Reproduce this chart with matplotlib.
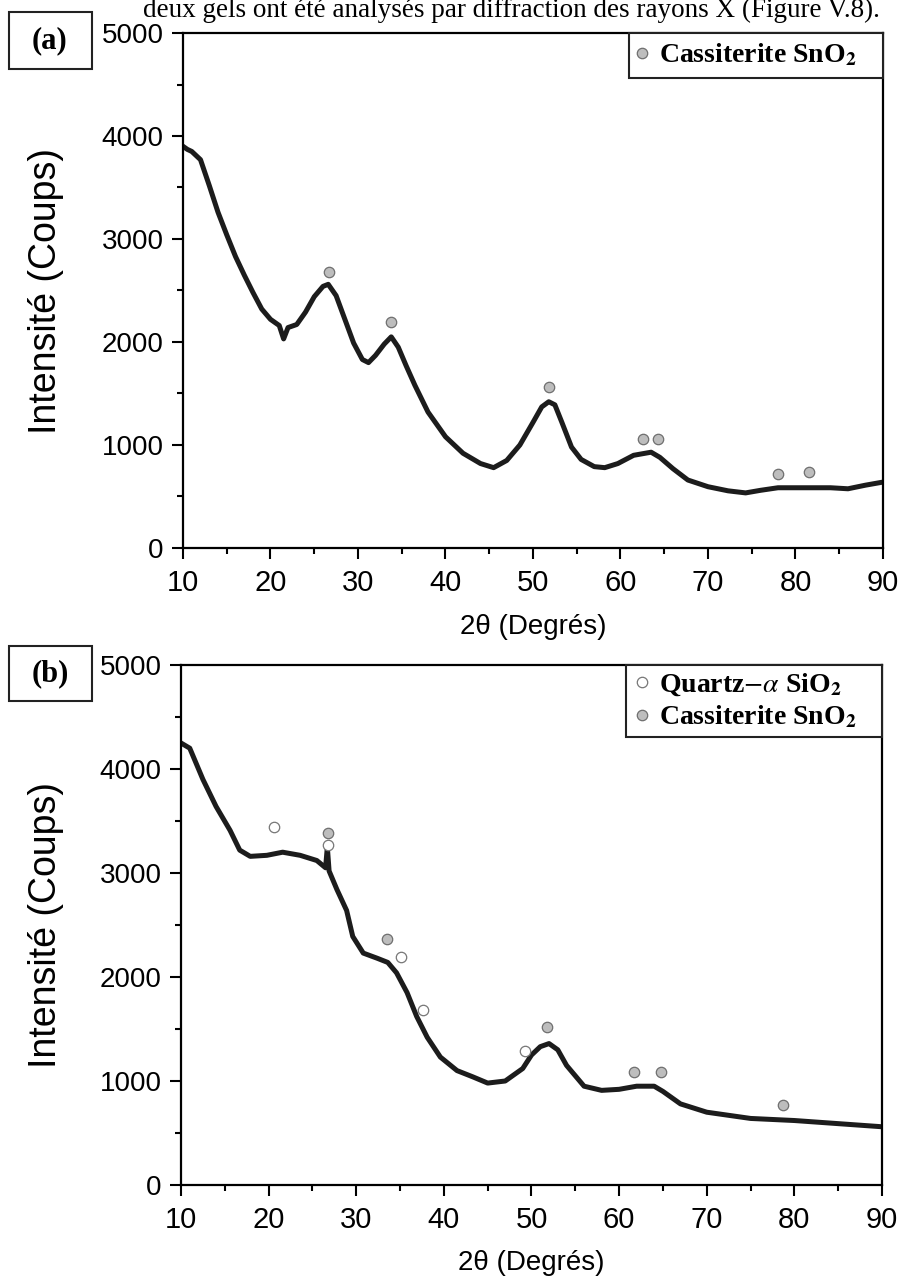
import matplotlib.pyplot as plt
from matplotlib.ticker import MultipleLocator
from matplotlib.lines import Line2D
from matplotlib.patches import Rectangle

plt.rcParams['font.family'] = ['Liberation Sans', 'DejaVu Sans']
plt.rcParams['mathtext.fontset'] = 'stix'

# panel (a): XRD pattern, gel 1
two_theta_a = [10, 10.5, 11, 12, 13, 14, 15, 16, 17, 18, 19, 20, 21, 21.5, 22, 23, 24, 25,
               26, 26.6, 27.5, 28.5, 29.5, 30.5, 31.2, 32, 33, 33.8, 34.6, 35.5, 36.5, 38,
               40, 42, 44, 45.5, 47, 48.5, 50, 51, 51.8, 52.5, 53.3, 54.4, 55.5, 57, 58.2,
               59.7, 61.5, 63.5, 64.5, 66, 67.7, 70, 72.3, 74.3, 76, 78, 80, 84, 86, 88, 90]
counts_a = [3900, 3870, 3850, 3770, 3520, 3260, 3040, 2830, 2650, 2480, 2320, 2220, 2160,
            2030, 2140, 2170, 2290, 2440, 2540, 2560, 2450, 2220, 1990, 1830, 1800, 1870,
            1980, 2050, 1950, 1770, 1580, 1320, 1080, 920, 820, 780, 850, 1000, 1220, 1370,
            1420, 1390, 1220, 980, 860, 790, 780, 820, 900, 930, 880, 770, 660, 595, 555,
            535, 560, 585, 585, 585, 575, 610, 640]
sno2_pos_a = [26.7, 33.8, 51.8, 62.6, 64.3, 78.0, 81.5]
sno2_int_a = [2680, 2194, 1563, 1058, 1058, 719, 738]

# panel (b): XRD pattern, gel 2
two_theta_b = [10, 11, 12, 12.5, 14, 15.6, 16.7, 17.9, 19.8, 21.6, 23.6, 25.5, 26.5, 26.7,
               26.9, 27.8, 28.9, 29.6, 30.8, 32.4, 33.6, 34.6, 35.8, 36.9, 38.1, 39.6, 41.5,
               43.3, 45, 47, 49, 50, 51, 52, 53, 54, 56, 58, 60, 62, 64, 65, 67, 70, 75,
               80, 85, 90]
counts_b = [4250, 4200, 4000, 3900, 3640, 3410, 3220, 3160, 3170, 3200, 3170, 3120, 3050,
            3250, 3020, 2840, 2640, 2390, 2230, 2180, 2140, 2040, 1850, 1620, 1420, 1230,
            1100, 1040, 980, 1000, 1120, 1250, 1330, 1360, 1300, 1150, 950, 910, 920, 950,
            950, 900, 780, 700, 640, 620, 590, 560]
quartz_pos_b = [20.6, 26.8, 35.1, 37.6, 49.3]
quartz_int_b = [3442, 3269, 2192, 1683, 1288]
sno2_pos_b = [26.8, 33.5, 51.8, 61.7, 64.8, 78.7]
sno2_int_b = [3385, 2365, 1519, 1087, 1087, 770]

x_ticks = [10, 20, 30, 40, 50, 60, 70, 80, 90]
y_ticks = [0, 1000, 2000, 3000, 4000, 5000]

W, H = 903, 1284
fig = plt.figure(figsize=(W / 100, H / 100), dpi=100)

gray_kw = dict(marker='o', ms=7.5, mfc='#bdbdbd', mec='#6f6f6f', mew=0.9, ls='none')
open_kw = dict(marker='o', ms=7.5, mfc='white', mec='#777777', mew=0.9, ls='none')
serif_bold = dict(family='Liberation Serif', weight='bold')


def style_axes(ax, ylab_x, xlab_y):
    ax.set_xlim(10, 90)
    ax.set_ylim(0, 5000)
    ax.set_xticks(x_ticks)
    ax.set_yticks(y_ticks)
    ax.xaxis.set_minor_locator(MultipleLocator(5))
    ax.yaxis.set_minor_locator(MultipleLocator(500))
    ax.tick_params(which='major', direction='out', length=8, width=1.5, pad=6)
    ax.tick_params(which='minor', direction='out', length=4.5, width=1.5)
    ax.tick_params(axis='x', labelsize=21, pad=7)
    ax.tick_params(axis='y', labelsize=20)
    for sp in ax.spines.values():
        sp.set_linewidth(1.6)
    ax.set_xlabel('2θ (Degrés)', fontsize=20)
    ax.set_ylabel('Intensité (Coups)', fontsize=27)
    ax.xaxis.set_label_coords(0.5, xlab_y)
    ax.yaxis.set_label_coords(ylab_x, 0.5)


def boxed_legend(ax, handles, labels, box_left, box_bottom, anchor_x, anchor_y):
    ax.add_patch(Rectangle((box_left, box_bottom), 1 - box_left, 1 - box_bottom,
                           transform=ax.transAxes, fc='white', ec='#222222', lw=1.5,
                           zorder=4, clip_on=False))
    leg = ax.legend(handles, labels, loc='center left', bbox_to_anchor=(anchor_x, anchor_y),
                    borderaxespad=0, borderpad=0, frameon=False,
                    prop=dict(size=20, **serif_bold), handlelength=0.6,
                    handletextpad=0.3, labelspacing=0.2)
    leg.set_zorder(5)


ax_a = fig.add_axes([183 / W, 1 - 548 / H, 700 / W, 515 / H])
ax_a.plot(two_theta_a, counts_a, color='#1c1c1c', lw=3.6)
ax_a.plot(sno2_pos_a, sno2_int_a, **gray_kw)
style_axes(ax_a, (64 - 183) / 700, (548 - 614) / 515)
boxed_legend(ax_a, [Line2D([], [], **gray_kw)], ['Cassiterite SnO$_\\mathbf{2}$'],
             (629 - 183) / 700, (548 - 78) / 515, (634 - 183) / 700, (548 - 55) / 515)

ax_b = fig.add_axes([181 / W, 1 - 1185 / H, 701 / W, 520 / H])
ax_b.plot(two_theta_b, counts_b, color='#1c1c1c', lw=3.6)
ax_b.plot(quartz_pos_b, quartz_int_b, **open_kw)
ax_b.plot(sno2_pos_b, sno2_int_b, **gray_kw)
style_axes(ax_b, (64 - 181) / 701, (1185 - 1250) / 520)
boxed_legend(ax_b, [Line2D([], [], **open_kw), Line2D([], [], **gray_kw)],
             ['Quartz$-\\alpha$ SiO$_\\mathbf{2}$', 'Cassiterite SnO$_\\mathbf{2}$'],
             (626 - 181) / 701, (1185 - 737) / 520, (634 - 181) / 701, (1185 - 701) / 520)

# panel letters in boxes
for label, top, bottom in (('(a)', 12, 69), ('(b)', 646, 701)):
    fig.add_artist(Rectangle((9 / W, 1 - bottom / H), 83 / W, (bottom - top) / H,
                             transform=fig.transFigure, fc='white', ec='#222222', lw=1.5))
    fig.text(50 / W, 1 - (top + bottom) / 2 / H, label, fontsize=22, ha='center',
             va='center', **serif_bold)

# caption line above the figure (cut off in the source scan)
fig.text(880 / W, 1 - 17 / H, 'deux gels ont été analysés par diffraction des rayons X (Figure V.8).',
         fontsize=19.5, family='Liberation Serif', ha='right', va='baseline')

fig.savefig('out.png', dpi=100)
